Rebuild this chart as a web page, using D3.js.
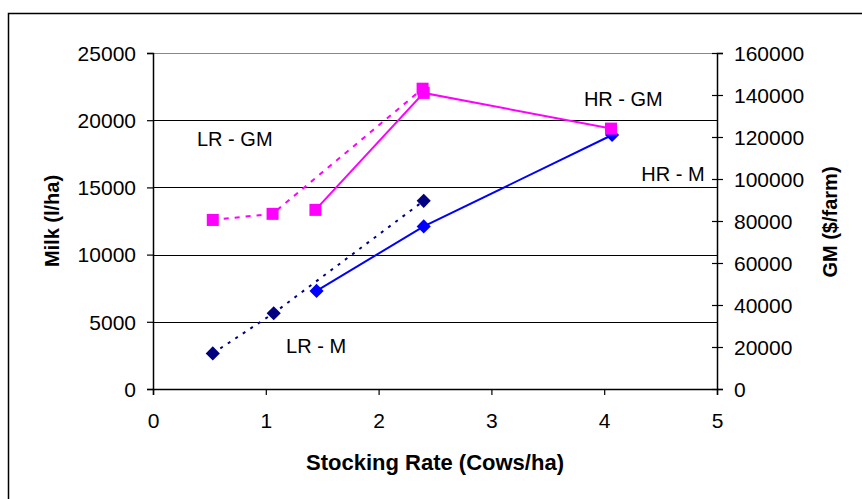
<!DOCTYPE html>
<html>
<head>
<meta charset="utf-8">
<script src="https://cdn.jsdelivr.net/npm/d3@7"></script>
<style>
  html, body { margin: 0; padding: 0; background: #fff; }
  svg { display: block; }
  text { font-family: Arial, "Liberation Sans", sans-serif; }
</style>
</head>
<body>
<svg id="chart" width="862" height="499"></svg>
<script>
// ---- data ----
const xTicks = [0, 1, 2, 3, 4, 5];
const milkTicks = [0, 5000, 10000, 15000, 20000, 25000];
const gmTicks = [0, 20000, 40000, 60000, 80000, 100000, 120000, 140000, 160000];

const lrMX = [0.53, 1.07, 2.40];
const lrMY = [2650, 5640, 14000];
const hrMX = [1.45, 2.40, 4.07];
const hrMY = [7300, 12100, 18900];

const lrGMX = [0.53, 1.06, 2.39];
const lrGMY = [80500, 83400, 143000];
const hrGMX = [1.44, 2.40, 4.06];
const hrGMY = [85300, 141000, 124000];

const labels = [
  { text: "LR - GM", x: 0.39, y: 18050, anchor: "start" },
  { text: "HR - GM", x: 3.82, y: 21020, anchor: "start" },
  { text: "HR - M",  x: 4.89, y: 15440, anchor: "end" },
  { text: "LR - M",  x: 1.18, y: 2700,  anchor: "start" }
];

// ---- layout ----
const svg = d3.select("#chart");
const L = 153, R = 717, T = 53, B = 389;

const x = d3.scaleLinear().domain([0, 5]).range([L, R]);
const yL = d3.scaleLinear().domain([0, 25000]).range([B, T]);
const yR = d3.scaleLinear().domain([0, 160000]).range([B, T]);

// outer frame (only top/left visible)
svg.append("rect").attr("x", 8.5).attr("y", 13.5).attr("width", 1200).attr("height", 1200)
  .attr("fill", "none").attr("stroke", "#000").attr("stroke-width", 1.5);

// gridlines
svg.append("g").selectAll("line").data(milkTicks.filter(d => d > 0)).join("line")
  .attr("x1", L).attr("x2", R)
  .attr("y1", d => Math.round(yL(d)) + 0.5).attr("y2", d => Math.round(yL(d)) + 0.5)
  .attr("stroke", d => d === 25000 ? "#888" : "#000").attr("stroke-width", 1.2);

const tickFont = "21px";

// left axis
const gL = svg.append("g").attr("transform", `translate(${L},0)`)
  .call(d3.axisLeft(yL).tickValues(milkTicks).tickSize(6).tickFormat(d3.format("d")));
gL.select(".domain").attr("stroke", "#000").attr("stroke-width", 1.5);
gL.selectAll(".tick line").attr("stroke", "#000").attr("stroke-width", 1.2);
gL.selectAll(".tick text").attr("x", -17).attr("dy", "0.35em")
  .style("font-size", tickFont).attr("fill", "#000").style("font-family", "Arial, 'Liberation Sans', sans-serif");

// right axis
const gR = svg.append("g").attr("transform", `translate(${R},0)`)
  .call(d3.axisRight(yR).tickValues(gmTicks).tickSize(6).tickFormat(d3.format("d")));
gR.select(".domain").attr("stroke", "#000").attr("stroke-width", 1.5);
gR.selectAll(".tick line").attr("x1", -5).attr("x2", 6).attr("stroke", "#000").attr("stroke-width", 1.2);
gR.selectAll(".tick text").attr("x", 17).attr("dy", "0.35em")
  .style("font-size", tickFont).attr("fill", "#000").style("font-family", "Arial, 'Liberation Sans', sans-serif");

// bottom axis
const gB = svg.append("g").attr("transform", `translate(0,${B})`)
  .call(d3.axisBottom(x).tickValues(xTicks).tickSize(6).tickFormat(d3.format("d")));
gB.select(".domain").attr("stroke", "#000").attr("stroke-width", 1.5);
gB.selectAll(".tick line").attr("stroke", "#000").attr("stroke-width", 1.2);
gB.selectAll(".tick text").attr("y", 39).attr("dy", "0")
  .style("font-size", tickFont).attr("fill", "#000").style("font-family", "Arial, 'Liberation Sans', sans-serif");

// axis titles
svg.append("text").attr("x", 435).attr("y", 470).attr("text-anchor", "middle")
  .style("font-size", "22px").style("font-weight", "bold").text("Stocking Rate (Cows/ha)");
svg.append("text").attr("transform", "translate(59,221) rotate(-90)").attr("text-anchor", "middle")
  .style("font-size", "20px").style("font-weight", "bold").text("Milk (l/ha)");
svg.append("text").attr("transform", "translate(837,222) rotate(-90)").attr("text-anchor", "middle")
  .style("font-size", "20px").style("font-weight", "bold").text("GM ($/farm)");

// series
function drawSeries(xs, ys, yScale, color, dash, marker) {
  const pts = xs.map((v, i) => [v, ys[i]]);
  const line = d3.line().x(d => x(d[0])).y(d => yScale(d[1]));
  svg.append("path").datum(pts).attr("d", line).attr("fill", "none")
    .attr("stroke", color).attr("stroke-width", 2).attr("stroke-dasharray", dash);
  const g = svg.append("g");
  if (marker === "diamond") {
    g.selectAll("path").data(pts).join("path")
      .attr("d", d3.symbol(d3.symbolSquare, 100)())
      .attr("transform", d => `translate(${x(d[0])},${yScale(d[1])}) rotate(45)`)
      .attr("fill", color);
  } else {
    g.selectAll("rect").data(pts).join("rect")
      .attr("x", d => x(d[0]) - 6).attr("y", d => yScale(d[1]) - 6)
      .attr("width", 12).attr("height", 12).attr("fill", color);
  }
}

drawSeries(lrMX, lrMY, yL, "#000080", "3,6", "diamond");
drawSeries(hrMX, hrMY, yL, "#0000FF", null, "diamond");
drawSeries(lrGMX, lrGMY, yR, "#FF00FF", "5,6", "square");
drawSeries(hrGMX, hrGMY, yR, "#FF00FF", null, "square");

// series labels
svg.append("g").selectAll("text").data(labels).join("text")
  .attr("x", d => x(d.x)).attr("y", d => yL(d.y)).attr("text-anchor", d => d.anchor)
  .style("font-size", "20px").attr("fill", "#000").text(d => d.text);
</script>
</body>
</html>
